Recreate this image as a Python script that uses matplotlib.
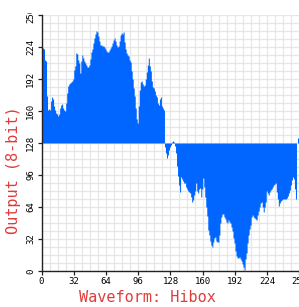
import matplotlib
matplotlib.use("Agg")
import matplotlib.pyplot as plt
from matplotlib.transforms import Bbox
import numpy as np

# Waveform samples (8-bit output), index 0..255
output_values = [
    223, 223, 222, 211, 210, 175, 161, 162, 161, 170, 174, 172, 165, 161, 158, 157,
    155, 157, 163, 166, 167, 163, 161, 160, 168, 178, 185, 187, 188, 189, 190, 192,
    201, 205, 218, 217, 211, 208, 198, 210, 216, 213, 210, 208, 206, 204, 204, 206,
    212, 219, 222, 228, 233, 237, 240, 239, 235, 230, 226, 226, 225, 225, 224, 222,
    220, 219, 219, 221, 223, 225, 228, 231, 233, 230, 226, 224, 225, 230, 236, 238,
    237, 239, 229, 222, 218, 216, 215, 211, 209, 200, 192, 183, 175, 163, 152, 148,
    165, 181, 189, 190, 187, 185, 186, 192, 199, 206, 213, 205, 200, 190, 184, 183,
    180, 176, 174, 168, 166, 172, 174, 165, 163, 161, 124, 118, 113, 116, 121, 124,
    126, 129, 130, 129, 125, 118, 105, 95, 86, 79, 94, 92, 90, 88, 88, 84,
    82, 80, 79, 78, 74, 69, 71, 76, 80, 88, 80, 78, 82, 83, 74, 82,
    93, 84, 74, 64, 55, 41, 36, 30, 26, 24, 29, 33, 34, 30, 29, 29,
    36, 48, 54, 57, 57, 54, 52, 49, 48, 51, 49, 48, 44, 40, 33, 28,
    20, 15, 13, 13, 14, 12, 10, 7, 4, 1, 12, 18, 28, 36, 42, 46,
    54, 56, 54, 53, 52, 51, 56, 60, 64, 68, 69, 64, 59, 64, 69, 80,
    78, 76, 79, 81, 82, 84, 86, 87, 88, 79, 72, 65, 68, 70, 71, 72,
    72, 72, 72, 73, 75, 78, 81, 86, 91, 94, 92, 82, 72, 128, 133, 133,
]
sample_index = list(range(len(output_values)))
tick_values = [0, 32, 64, 96, 128, 160, 192, 224, 256]
x_label = "Waveform: Hibox"
y_label = "Output (8-bit)"
baseline = 128

W, H, DPI = 299, 307, 100
fig = plt.figure(figsize=(W / DPI, H / DPI), dpi=DPI)
ax = fig.add_axes([41.5 / W, 36 / H, 258 / W, 256 / H])

x = np.array(sample_index)
y = np.array(output_values)
ax.fill_between(x, baseline, y, step="post", color="#0066ff", linewidth=0, zorder=2)

ax.set_xlim(0, 256)
ax.set_ylim(0, 256)
ax.set_xticks(tick_values)
ax.set_yticks(tick_values)
ax.set_xticks(np.arange(0, 257, 8), minor=True)
ax.set_yticks(np.arange(0, 257, 8), minor=True)
ax.grid(True, which="both", color="#e6e6e6", linewidth=0.9, zorder=0)
ax.set_axisbelow(True)

mono = "DejaVu Sans Mono"
ax.set_xticklabels([str(v) for v in tick_values], family=mono, fontsize=6.5)
ax.set_yticklabels([str(v) for v in tick_values], family=mono, fontsize=6.5,
                   rotation=90, va="center")
ax.tick_params(which="major", length=3, width=0.9, color="#222222", pad=1.5)
ax.tick_params(which="minor", length=0)

for s in ["top", "right"]:
    ax.spines[s].set_visible(False)
for s in ["left", "bottom"]:
    ax.spines[s].set_color("#222222")
    ax.spines[s].set_linewidth(1.0)

red = "#e03c3c"
fig.text(147 / W, 1 - 298 / H, x_label, family=mono, fontsize=11, color=red,
         ha="center", va="center")
fig.text(14 / W, 1 - 170 / H, y_label, family=mono, fontsize=11, color=red,
         ha="center", va="center", rotation=90)

# clip top y tick label like the reference
clip = Bbox.from_extents(0, 0, W, H - 13)
for lbl in ax.get_yticklabels():
    lbl.set_clip_box(clip)
    lbl.set_clip_on(True)

fig.savefig("out.png", dpi=DPI)
